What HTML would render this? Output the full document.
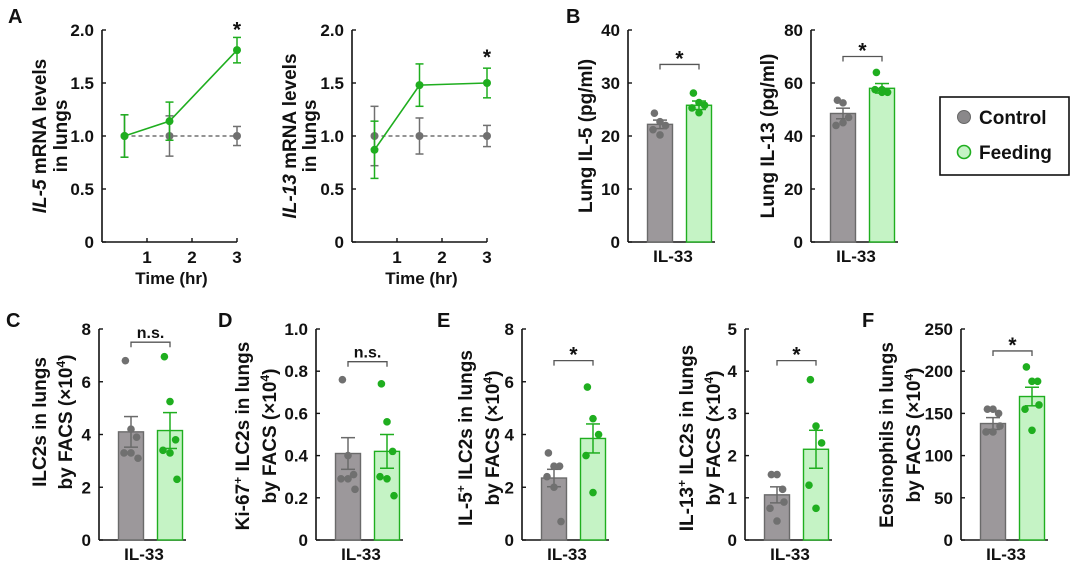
<!DOCTYPE html>
<html><head><meta charset="utf-8"><style>
html,body{margin:0;padding:0;background:#fff;}
svg{display:block;font-family:"Liberation Sans",Arial,sans-serif;font-weight:bold;}
</style></head><body>
<svg id="fig" width="1080" height="563" viewBox="0 0 1080 563" xmlns="http://www.w3.org/2000/svg"></svg>
<script>
// ---- Panel A data ----
const aTimes = [0.5, 1.5, 3];
const a1Ctrl = [1, 1, 1];
const a1CtrlErr = [0.2, 0.19, 0.09];
const a1Feed = [1.0, 1.14, 1.81];
const a1FeedErr = [0.2, 0.18, 0.12];
const a2Ctrl = [1, 1, 1];
const a2CtrlErr = [0.28, 0.17, 0.1];
const a2Feed = [0.87, 1.48, 1.5];
const a2FeedErr = [0.27, 0.2, 0.14];
const aTicksY = [0, 0.5, 1.0, 1.5, 2.0];
const aTickLabelsY = ["0", "0.5", "1.0", "1.5", "2.0"];
const aTicksX = [1, 2, 3];
// ---- Bar panel data ----
const b1CtrlDots = [24.3, 22.7, 22.0, 21.2, 20.2];
const b1FeedDots = [28.1, 26.3, 25.8, 25.3, 24.4];
const b1Means = [22.2, 25.8];
const b1Sem = [0.8, 0.8];
const b2CtrlDots = [53.5, 52.5, 47, 44, 45];
const b2FeedDots = [64, 57.5, 56.5, 57.5, 56.5];
const b2Means = [48.5, 58];
const b2Sem = [2, 1.8];
const cCtrlDots = [6.8, 4.2, 3.9, 3.3, 3.3, 3.1];
const cFeedDots = [6.95, 5.25, 3.8, 3.4, 3.3, 2.3];
const cMeans = [4.1, 4.15];
const cSem = [0.58, 0.68];
const dCtrlDots = [0.76, 0.4, 0.31, 0.29, 0.29, 0.24];
const dFeedDots = [0.74, 0.56, 0.42, 0.30, 0.29, 0.21];
const dMeans = [0.41, 0.42];
const dSem = [0.075, 0.08];
const e1CtrlDots = [3.3, 2.8, 2.8, 2.4, 2.0, 0.7];
const e1FeedDots = [5.8, 4.6, 4.0, 3.2, 1.8];
const e1Means = [2.35, 3.85];
const e1Sem = [0.33, 0.55];
const e2CtrlDots = [1.55, 1.55, 1.2, 0.75, 0.45, 0.9];
const e2FeedDots = [3.8, 2.7, 2.3, 1.3, 0.75];
const e2Means = [1.07, 2.15];
const e2Sem = [0.19, 0.45];
const fCtrlDots = [155, 155, 150, 128, 128, 135];
const fFeedDots = [205, 188, 188, 155, 130, 160];
const fMeans = [138, 170];
const fSem = [7, 11];
const sigLabels = ["*", "*", "n.s.", "n.s.", "*", "*", "*"];

const NS = "http://www.w3.org/2000/svg";
const svg = document.getElementById("fig");
const GRAY = "#707070", GREEN = "#1fae1f";
const TICK = 17, TITLE = 19;
function el(tag, attrs, parent, text){
  const e = document.createElementNS(NS, tag);
  for (const k in attrs) e.setAttribute(k, attrs[k]);
  if (text !== undefined) e.textContent = text;
  (parent || svg).appendChild(e);
  return e;
}
function txt(x, y, s, size, anchor, parent){
  return el("text", {x:x, y:y, "font-size":size, "text-anchor":anchor||"middle", fill:"#111"}, parent, s);
}
function yAxis(g, ax, yTop, yBot, ymax, ticks, labels){
  const ys = v => yBot - v / ymax * (yBot - yTop);
  const a = el("line", {x1:ax, y1:yTop, x2:ax, y2:yBot, stroke:"#111", "stroke-width":1.6}, g);
  
  
  ticks.forEach((v, i) => {
    el("line", {x1:ax, y1:ys(v), x2:ax + 4, y2:ys(v), stroke:"#111", "stroke-width":1.4}, g);
    const t = txt(ax - 8, ys(v) + 6, labels[i], TICK, "end", g);
    
    
  });
  return ys;
}
function panelLetter(x, y, s){
  const t = txt(x, y, s, 20, "start");
  
  
}
function yTitle(g, lines, xs, cy){
  lines.forEach((ln, i) => {
    const t = el("text", {x:xs[i], y:cy, "font-size":TITLE, "text-anchor":"middle", fill:"#111", transform:"rotate(-90 " + xs[i] + " " + cy + ")"}, g);
    t.innerHTML = ln;
    
    
  });
}

// ---- Line panels (A) ----
function linePanel(name, ax, ctrl, ctrlErr, feed, feedErr, star, titleLines, titleXs){
  const g = el("g", {}, svg);
  
  
  const yTop = 30, yBot = 242;
  const ys = yAxis(g, ax, yTop, yBot, 2, aTicksY, aTickLabelsY);
  const xs = v => ax + v * 45;
  const xa = el("line", {x1:ax, y1:yBot, x2:xs(3), y2:yBot, stroke:"#111", "stroke-width":1.6}, g);
  
  
  aTicksX.forEach(v => {
    el("line", {x1:xs(v), y1:yBot, x2:xs(v), y2:yBot - 4, stroke:"#111", "stroke-width":1.4}, g);
    const t = txt(xs(v), 263, String(v), TICK, "middle", g);
    
    
  });
  const xt = txt(xs(1.5) + 2, 284, "Time (hr)", TICK, "middle", g);
  
  
  yTitle(g, titleLines, titleXs, 136);
  [[ctrl, ctrlErr, GRAY, "control"], [feed, feedErr, GREEN, "feeding"]].forEach(([vals, errs, col, nm]) => {
    const pts = aTimes.map((t, i) => xs(t) + "," + ys(vals[i])).join(" ");
    const pl = el("polyline", {points:pts, fill:"none", stroke:col, "stroke-width":1.6, "stroke-dasharray": nm === "control" ? "4,3" : "none"}, g);
    
    
    aTimes.forEach((t, i) => {
      const x = xs(t), hi = ys(vals[i] + errs[i]), lo = ys(vals[i] - errs[i]);
      el("line", {x1:x, y1:hi, x2:x, y2:lo, stroke:col, "stroke-width":1.5}, g);
      el("line", {x1:x - 4, y1:hi, x2:x + 4, y2:hi, stroke:col, "stroke-width":1.5}, g);
      el("line", {x1:x - 4, y1:lo, x2:x + 4, y2:lo, stroke:col, "stroke-width":1.5}, g);
      const c = el("circle", {cx:x, cy:ys(vals[i]), r:4, fill:col}, g);
      
      
    });
  });
  const s = txt(xs(3), ys(star), "*", 21, "middle", g);
  
  
}
panelLetter(8, 23, "A");
linePanel("panel-a-il5", 102, a1Ctrl, a1CtrlErr, a1Feed, a1FeedErr, 1.94, ["<tspan font-style='italic'>IL-5</tspan> mRNA levels", "in lungs"], [46, 67]);
linePanel("panel-a-il13", 352, a2Ctrl, a2CtrlErr, a2Feed, a2FeedErr, 1.68, ["<tspan font-style='italic'>IL-13</tspan> mRNA levels", "in lungs"], [296, 316]);

// ---- Bar panels ----
function barPanel(name, ax, yTop, yBot, ymax, ticks, labels, means, sem, ctrlDots, feedDots, sig, sigY, titleLines, titleXs, titleCy){
  const g = el("g", {}, svg);
  
  
  const ys = yAxis(g, ax, yTop, yBot, ymax, ticks, labels);
  const xa = el("line", {x1:ax, y1:yBot, x2:ax + 87, y2:yBot, stroke:"#111", "stroke-width":1.6}, g);
  
  
  const lab = txt(ax + 45, yBot + 20, "IL-33", TICK, "middle", g);
  
  
  yTitle(g, titleLines, titleXs, titleCy);
  const centers = [ax + 32, ax + 71];
  const fills = ["#9c989b", "#c5f3c5"], strokes = ["#6a6a6a", GREEN], dotc = [GRAY, GREEN];
  const groups = [ctrlDots, feedDots];
  const names = ["control", "feeding"];
  means.forEach((m, i) => {
    const cx = centers[i];
    const r = el("rect", {x:cx - 12.5, y:ys(m), width:25, height:yBot - ys(m), fill:fills[i], stroke:strokes[i], "stroke-width":1.4}, g);
    
    
    const hi = ys(m + sem[i]), lo = ys(m - sem[i]);
    el("line", {x1:cx, y1:hi, x2:cx, y2:lo, stroke:strokes[i], "stroke-width":1.5}, g);
    el("line", {x1:cx - 7, y1:hi, x2:cx + 7, y2:hi, stroke:strokes[i], "stroke-width":1.5}, g);
    el("line", {x1:cx - 7, y1:lo, x2:cx + 7, y2:lo, stroke:strokes[i], "stroke-width":1.5}, g);
    groups[i].forEach((v, j) => {
      const off = (j % 3 - 1) * 7 * (j % 2 ? 1 : 0.8);
      const d = el("circle", {cx:cx + off, cy:ys(v), r:3.8, fill:dotc[i]}, g);
      
      
    });
  });
  const by = ys(sigY);
  const br = el("path", {d:"M" + centers[0] + "," + (by + 5) + "V" + by + "H" + centers[1] + "V" + (by + 5), fill:"none", stroke:"#555", "stroke-width":1.3}, g);
  
  
  const st = txt((centers[0] + centers[1]) / 2, sig === "*" ? by + 1 : by - 4, sig, sig === "*" ? 21 : 16, "middle", g);
  
  
}
const SUP4 = "<tspan baseline-shift='super' font-size='12'>4</tspan>";
const SUPP = "<tspan baseline-shift='super' font-size='12'>+</tspan>";
panelLetter(566, 23, "B");
barPanel("panel-b-il5", 628, 30, 242, 40, [0,10,20,30,40], ["0","10","20","30","40"], b1Means, b1Sem, b1CtrlDots, b1FeedDots, sigLabels[0], 33.5, ["Lung IL-5 (pg/ml)"], [592], 136);
barPanel("panel-b-il13", 811, 30, 242, 80, [0,20,40,60,80], ["0","20","40","60","80"], b2Means, b2Sem, b2CtrlDots, b2FeedDots, sigLabels[1], 70, ["Lung IL-13 (pg/ml)"], [774], 136);

// legend
const lg = el("g", {}, svg);


el("rect", {x:940, y:97, width:129, height:78, fill:"#fff", stroke:"#111", "stroke-width":1.6}, lg);
const l1 = el("circle", {cx:964, cy:117, r:6.5, fill:"#8a888a", stroke:"#666", "stroke-width":1}, lg);


const l2 = el("circle", {cx:964, cy:152, r:6.5, fill:"#c5f3c5", stroke:GREEN, "stroke-width":1.6}, lg);


const lt1 = txt(979, 124, "Control", 19, "start", lg);


const lt2 = txt(979, 159, "Feeding", 19, "start", lg);



// bottom row
const bTop = 329, bBot = 540;
panelLetter(6, 327, "C");
barPanel("panel-c", 99, bTop, bBot, 8, [0,2,4,6,8], ["0","2","4","6","8"], cMeans, cSem, cCtrlDots, cFeedDots, sigLabels[2], 7.5, ["ILC2s in lungs", "by FACS (×10" + SUP4 + ")"], [46, 72], 422);
panelLetter(218, 327, "D");
barPanel("panel-d", 316, bTop, bBot, 1.0, [0,0.2,0.4,0.6,0.8,1.0], ["0","0.2","0.4","0.6","0.8","1.0"], dMeans, dSem, dCtrlDots, dFeedDots, sigLabels[3], 0.845, ["Ki-67" + SUPP + " ILC2s in lungs", "by FACS (×10" + SUP4 + ")"], [249, 276], 436);
panelLetter(437, 327, "E");
barPanel("panel-e-il5", 522, bTop, bBot, 8, [0,2,4,6,8], ["0","2","4","6","8"], e1Means, e1Sem, e1CtrlDots, e1FeedDots, sigLabels[4], 6.8, ["IL-5" + SUPP + " ILC2s in lungs", "by FACS (×10" + SUP4 + ")"], [472, 499], 438);
barPanel("panel-e-il13", 745, bTop, bBot, 5, [0,1,2,3,4,5], ["0","1","2","3","4","5"], e2Means, e2Sem, e2CtrlDots, e2FeedDots, sigLabels[5], 4.25, ["IL-13" + SUPP + " ILC2s in lungs", "by FACS (×10" + SUP4 + ")"], [693, 720], 438);
panelLetter(862, 327, "F");
barPanel("panel-f", 961, bTop, bBot, 250, [0,50,100,150,200,250], ["0","50","100","150","200","250"], fMeans, fSem, fCtrlDots, fFeedDots, sigLabels[6], 224, ["Eosinophils in lungs", "by FACS (×10" + SUP4 + ")"], [893, 920], 435);
</script>
</body></html>
